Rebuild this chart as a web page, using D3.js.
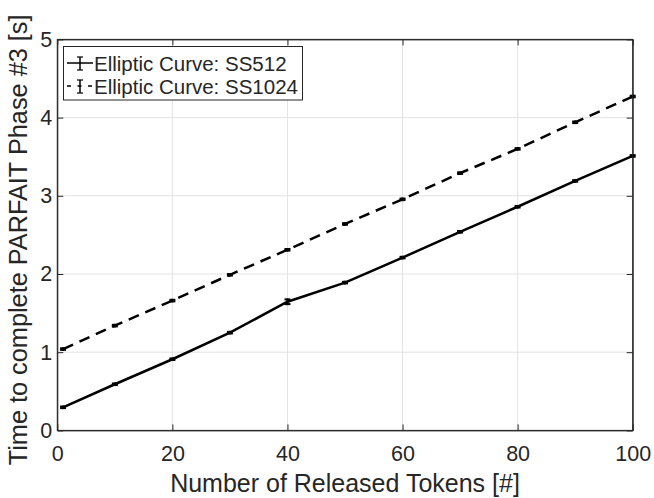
<!DOCTYPE html>
<html><head><meta charset="utf-8">
<script src="https://cdn.jsdelivr.net/npm/d3@7/dist/d3.min.js"></script>
<style>body{margin:0;background:#fff}svg{display:block}text{font-family:"Liberation Sans",Arial,Helvetica,sans-serif;fill:#262626}</style>
</head><body>
<script>
const tokens = [1, 10, 20, 30, 40, 50, 60, 70, 80, 90, 100];
const ss512 = [0.295, 0.59, 0.91, 1.25, 1.645, 1.89, 2.21, 2.54, 2.86, 3.19, 3.51];
const ss512Err = [0.01, 0.01, 0.01, 0.01, 0.03, 0.01, 0.01, 0.01, 0.01, 0.01, 0.01];
const ss1024 = [1.04, 1.34, 1.66, 1.99, 2.31, 2.64, 2.955, 3.29, 3.60, 3.94, 4.27];
const ss1024Err = [0.01, 0.01, 0.01, 0.01, 0.01, 0.01, 0.01, 0.01, 0.01, 0.01, 0.01];
const seriesNames = ["Elliptic Curve: SS512", "Elliptic Curve: SS1024"];
const xTicks = [0, 20, 40, 60, 80, 100];
const yTicks = [0, 1, 2, 3, 4, 5];
const xLabel = "Number of Released Tokens [#]";
const yLabel = "Time to complete PARFAIT Phase #3 [s]";

const W = 654, H = 498;
const L = 57.3, R = 632.7, T = 39.4, B = 430.4;
const svg = d3.select("body").append("svg").attr("width", W).attr("height", H);
const x = d3.scaleLinear().domain([0, 100]).range([L, R]);
const y = d3.scaleLinear().domain([0, 5]).range([B, T]);
const axCol = "#262626";
const fmt = d3.format("d");

// grid
const g = svg.append("g");
g.selectAll(".gx").data(xTicks).enter().append("line")
  .attr("x1", d => x(d)).attr("x2", d => x(d)).attr("y1", T).attr("y2", B)
  .attr("stroke", "#e3e3e3").attr("stroke-width", 1);
g.selectAll(".gy").data(yTicks).enter().append("line")
  .attr("y1", d => y(d)).attr("y2", d => y(d)).attr("x1", L).attr("x2", R)
  .attr("stroke", "#e3e3e3").attr("stroke-width", 1);

// axes (inner ticks)
const tl = 6;
const xa = svg.append("g").attr("transform", `translate(0,${B})`)
  .call(d3.axisBottom(x).tickValues(xTicks).tickFormat(fmt).tickSizeInner(-tl).tickSizeOuter(0).tickPadding(12));
const xt = svg.append("g").attr("transform", `translate(0,${T})`)
  .call(d3.axisTop(x).tickValues(xTicks).tickSizeInner(-tl).tickSizeOuter(0).tickFormat(""));
const ya = svg.append("g").attr("transform", `translate(${L},0)`)
  .call(d3.axisLeft(y).tickValues(yTicks).tickFormat(fmt).tickSizeInner(-tl).tickSizeOuter(0).tickPadding(12));
const yr = svg.append("g").attr("transform", `translate(${R},0)`)
  .call(d3.axisRight(y).tickValues(yTicks).tickSizeInner(-tl).tickSizeOuter(0).tickFormat(""));
[xa, xt, ya, yr].forEach(a => {
  a.selectAll("path,line").attr("stroke", axCol).attr("stroke-width", 1);
  a.selectAll("text").attr("font-size", 21.5).attr("fill", axCol)
    .attr("font-family", '"Liberation Sans",Arial,sans-serif');
});
xa.selectAll("text").attr("dy", "0.71em").attr("y", 15);
ya.selectAll("text").attr("x", -5);

// series
const series = [
  {vals: ss512, err: ss512Err, dash: null},
  {vals: ss1024, err: ss1024Err, dash: "11,7"}
];
const line = d3.line().x(d => x(d[0])).y(d => y(d[1]));
series.forEach(s => {
  const pts = tokens.map((t, i) => [t, s.vals[i], s.err[i]]);
  svg.append("path").datum(pts).attr("d", line).attr("fill", "none")
    .attr("stroke", "#000").attr("stroke-width", 2.5)
    .attr("stroke-dasharray", s.dash);
  const eb = svg.append("g");
  pts.forEach(p => {
    const cx = x(p[0]), y1 = y(p[1] - p[2]), y2 = y(p[1] + p[2]);
    eb.append("line").attr("x1", cx).attr("x2", cx).attr("y1", y1 + 1).attr("y2", y2 - 1)
      .attr("stroke", "#000").attr("stroke-width", 2);
    [y1, y2].forEach(yy => eb.append("line").attr("x1", cx - 3).attr("x2", cx + 3)
      .attr("y1", yy).attr("y2", yy).attr("stroke", "#000").attr("stroke-width", 2));
  });
});

// box outline on top
svg.append("rect").attr("x", L).attr("y", T).attr("width", R - L).attr("height", B - T)
  .attr("fill", "none").attr("stroke", axCol).attr("stroke-width", 1);

// legend
const lg = svg.append("g");
lg.append("rect").attr("x", 63.5).attr("y", 46.5).attr("width", 239).attr("height", 53.5)
  .attr("fill", "#fff").attr("stroke", axCol).attr("stroke-width", 1);
const rowsY = [63, 86];
seriesNames.forEach((name, i) => {
  const cy = rowsY[i];
  lg.append("line").attr("x1", 67).attr("x2", 93).attr("y1", cy).attr("y2", cy)
    .attr("stroke", "#000").attr("stroke-width", 1.5)
    .attr("stroke-dasharray", i === 1 ? "4,6.5" : null);
  lg.append("line").attr("x1", 80).attr("x2", 80).attr("y1", cy - 6).attr("y2", cy + 7)
    .attr("stroke", "#000").attr("stroke-width", 1.5);
  [cy - 6, cy + 7].forEach(yy => lg.append("line").attr("x1", 77).attr("x2", 83)
    .attr("y1", yy).attr("y2", yy).attr("stroke", "#000").attr("stroke-width", 1.2));
  lg.append("text").attr("x", 94).attr("y", cy + 8).attr("font-size", 20.5).text(name);
});

// axis labels
svg.append("text").attr("x", (L + R) / 2).attr("y", 491.5).attr("text-anchor", "middle")
  .attr("font-size", 25).text(xLabel);
svg.append("text").attr("transform", `translate(27,${(T + B) / 2 + 5}) rotate(-90)`)
  .attr("text-anchor", "middle").attr("font-size", 25.3).text(yLabel);
</script>
</body></html>
